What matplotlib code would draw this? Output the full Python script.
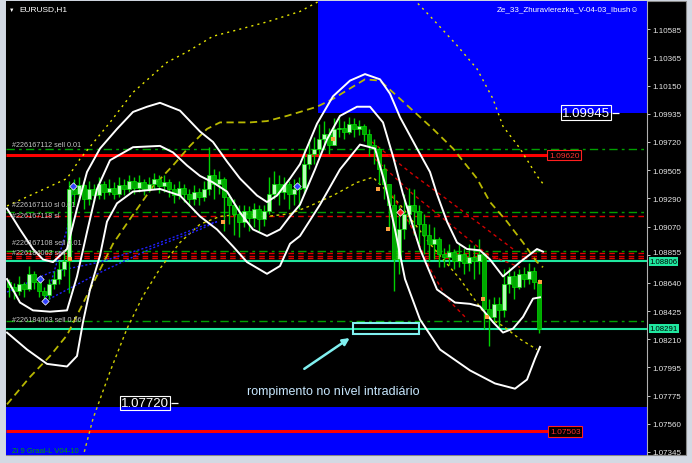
import matplotlib.pyplot as plt
from matplotlib.patches import Rectangle
from matplotlib.transforms import blended_transform_factory, ScaledTranslation

# ---- EURUSD H1 candles (bar index 0..106) ----
first_open = 1.0865
closes = [1.0861, 1.0858, 1.0863, 1.0859, 1.0871, 1.0865, 1.0858, 1.0855, 1.0863, 1.0867,
          1.0875, 1.0881, 1.0936, 1.0932, 1.0939, 1.0928, 1.0936, 1.0931, 1.0940, 1.0934,
          1.0937, 1.0932, 1.0939, 1.0936, 1.0942, 1.0937, 1.0941, 1.0936, 1.0940, 1.0944,
          1.0938, 1.0941, 1.0936, 1.0931, 1.0937, 1.0932, 1.0928, 1.0934, 1.0930, 1.0936,
          1.0947, 1.0940, 1.0944, 1.0930, 1.0924, 1.0917, 1.0911, 1.0919, 1.0914, 1.0921,
          1.0913, 1.0919, 1.0932, 1.0940, 1.0934, 1.0940, 1.0932, 1.0936, 1.0937, 1.0955,
          1.0963, 1.0967, 1.0974, 1.0978, 1.0970, 1.0982, 1.0983, 1.0980, 1.0986, 1.0982,
          1.0984, 1.0978, 1.0970, 1.0967, 1.0951, 1.0940, 1.0924, 1.0882, 1.0905, 1.0917,
          1.0924, 1.0919, 1.0909, 1.0901, 1.0894, 1.0898, 1.0886, 1.0884, 1.0888, 1.0881,
          1.0886, 1.0879, 1.0884, 1.0881, 1.0886, 1.0844, 1.0838, 1.0848, 1.0843, 1.0863,
          1.0869, 1.0861, 1.0871, 1.0867, 1.0873, 1.0865, 1.0829]
highs = [1.0867, 1.0864, 1.0869, 1.0865, 1.0877, 1.0873, 1.0865, 1.0861, 1.0867, 1.0873,
         1.0881, 1.0888, 1.0942, 1.0944, 1.0945, 1.0940, 1.0942, 1.0940, 1.0945, 1.0942,
         1.0944, 1.0941, 1.0945, 1.0944, 1.0947, 1.0945, 1.0947, 1.0944, 1.0945, 1.0948,
         1.0947, 1.0947, 1.0944, 1.0940, 1.0942, 1.0940, 1.0936, 1.0939, 1.0937, 1.0942,
         1.0968, 1.0951, 1.0950, 1.0945, 1.0932, 1.0928, 1.0924, 1.0924, 1.0923, 1.0925,
         1.0924, 1.0924, 1.0945, 1.0950, 1.0947, 1.0945, 1.0942, 1.0944, 1.0945, 1.0967,
         1.0974, 1.0976, 1.0986, 1.0988, 1.0983, 1.0990, 1.0990, 1.0988, 1.0991, 1.0990,
         1.0989, 1.0986, 1.0982, 1.0974, 1.0968, 1.0955, 1.0940, 1.0932, 1.0924, 1.0932,
         1.0937, 1.0936, 1.0924, 1.0917, 1.0909, 1.0907, 1.0899, 1.0891, 1.0894, 1.0890,
         1.0894, 1.0891, 1.0894, 1.0893, 1.0898, 1.0888, 1.0852, 1.0853, 1.0853, 1.0875,
         1.0876, 1.0873, 1.0875, 1.0876, 1.0879, 1.0876, 1.0867]
lows = [1.0853, 1.0852, 1.0855, 1.0853, 1.0858, 1.0859, 1.0853, 1.0850, 1.0852, 1.0859,
        1.0863, 1.0869, 1.0856, 1.0924, 1.0928, 1.0921, 1.0924, 1.0927, 1.0928, 1.0928,
        1.0931, 1.0928, 1.0930, 1.0931, 1.0934, 1.0932, 1.0934, 1.0931, 1.0934, 1.0936,
        1.0933, 1.0934, 1.0930, 1.0925, 1.0928, 1.0926, 1.0923, 1.0924, 1.0924, 1.0927,
        1.0931, 1.0928, 1.0932, 1.0904, 1.0909, 1.0901, 1.0899, 1.0907, 1.0904, 1.0907,
        1.0904, 1.0908, 1.0917, 1.0928, 1.0924, 1.0928, 1.0921, 1.0924, 1.0921, 1.0932,
        1.0951, 1.0955, 1.0961, 1.0967, 1.0963, 1.0970, 1.0976, 1.0974, 1.0978, 1.0976,
        1.0977, 1.0973, 1.0961, 1.0955, 1.0940, 1.0928, 1.0905, 1.0858, 1.0871, 1.0898,
        1.0909, 1.0901, 1.0894, 1.0886, 1.0881, 1.0882, 1.0876, 1.0876, 1.0878, 1.0875,
        1.0876, 1.0871, 1.0873, 1.0867, 1.0871, 1.0829, 1.0816, 1.0833, 1.0830, 1.0838,
        1.0856, 1.0852, 1.0859, 1.0861, 1.0863, 1.0859, 1.0826]

# ---- white channel lines (bar, price) ----
band_up_x = [-0.4, 2.2, 4.8, 6.8, 8.8, 11.6, 13.6, 15.6, 18.2, 21.6, 24.8, 27.6, 30.2, 34.2, 38.2, 40.8,
             43.6, 46.2, 49.6, 51.6, 53.6, 56.2, 58.2, 61.6, 64.8, 68.2, 71.2, 74.2, 76.2, 78.2, 81.6,
             84.2, 85.6, 87.6, 89.6, 91.6, 94.2, 96.2, 98.8, 102.2, 105.6, 106.8]
band_up_y = [1.0921, 1.0905, 1.0890, 1.0882, 1.0880, 1.0890, 1.0921, 1.0949, 1.0967, 1.0982, 1.0995, 1.0999,
             1.1002, 1.0996, 1.0980, 1.0972, 1.0957, 1.0944, 1.0931, 1.0926, 1.0931, 1.0944, 1.0955, 1.0986,
             1.1007, 1.1019, 1.1024, 1.1020, 1.1009, 1.0991, 1.0967, 1.0949, 1.0932, 1.0911, 1.0895, 1.0890,
             1.0889, 1.0882, 1.0869, 1.0880, 1.0890, 1.0888]
band_mid_x = [-0.4, 2.2, 4.8, 8.2, 11.6, 13.6, 15.6, 17.6, 20.2, 24.8, 30.2, 32.8, 35.6, 38.2, 40.8, 43.6,
              46.2, 48.8, 51.6, 54.2, 56.2, 58.2, 61.2, 63.6, 66.2, 69.6, 72.2, 74.8, 76.8, 78.8, 82.2,
              85.6, 89.2, 92.2, 94.2, 96.8, 98.8, 100.8, 102.8, 104.8, 106.2]
band_mid_y = [1.0867, 1.0849, 1.0843, 1.0842, 1.0843, 1.0869, 1.0903, 1.0936, 1.0958, 1.0968, 1.0969,
              1.0964, 1.0954, 1.0946, 1.0941, 1.0934, 1.0918, 1.0905, 1.0900, 1.0905, 1.0915, 1.0924,
              1.0951, 1.0974, 1.0992, 1.0999, 1.0999, 1.0987, 1.0961, 1.0932, 1.0890, 1.0859, 1.0849,
              1.0848, 1.0846, 1.0834, 1.0826, 1.0829, 1.0838, 1.0852, 1.0853]
band_low_x = [-0.4, 3.6, 7.6, 11.6, 13.6, 14.8, 16.2, 18.2, 19.6, 21.6, 24.8, 30.2, 34.2, 38.2, 41.6,
              44.8, 47.6, 51.6, 54.2, 56.2, 58.2, 62.2, 66.2, 70.2, 73.2, 75.2, 77.2, 79.2, 82.2, 86.2,
              92.2, 97.2, 101.2, 103.6, 105.2, 106.2]
band_low_y = [1.0826, 1.0813, 1.0802, 1.0800, 1.0808, 1.0834, 1.0859, 1.0885, 1.0911, 1.0925, 1.0934,
              1.0936, 1.0931, 1.0915, 1.0905, 1.0892, 1.0880, 1.0871, 1.0877, 1.0894, 1.0900, 1.0924,
              1.0951, 1.0970, 1.0967, 1.0940, 1.0905, 1.0867, 1.0836, 1.0813, 1.0797, 1.0787, 1.0783,
              1.0790, 1.0806, 1.0815]

# ---- yellow envelope lines ----
env_outer_x = [-0.4, 8.2, 11.6, 14.2, 20.2, 24.8, 31.6, 35.6, 40.8, 44.8, 51.6, 58.2, 61.6, 68.2, 74.2,
               80.8, 84.8, 89.6, 93.6, 96.8, 98.8, 102.2, 105.6, 106.8]
env_outer_y = [1.0923, 1.0938, 1.0944, 1.0959, 1.0987, 1.1010, 1.1033, 1.1041, 1.1053, 1.1057, 1.1064,
               1.1072, 1.1079, 1.1093, 1.1093, 1.1082, 1.1066, 1.1046, 1.1028, 1.1005, 1.0984, 1.0967,
               1.0946, 1.0940]
env_up_x = [-0.4, 4.2, 8.2, 11.6, 16.2, 20.8, 24.2, 28.8, 32.8, 36.2, 39.6, 42.2, 48.2, 51.6, 55.6, 58.2,
            61.6, 64.8, 68.2, 71.2, 74.2, 78.8, 84.8, 88.8, 93.6, 96.2, 99.6, 102.8, 105.6, 106.8]
env_up_y = [1.0771, 1.0792, 1.0808, 1.0824, 1.0859, 1.0894, 1.0913, 1.0938, 1.0954, 1.0969, 1.0982,
            1.0987, 1.0987, 1.0988, 1.0992, 1.0995, 1.0999, 1.1005, 1.1013, 1.1020, 1.1019, 1.1003,
            1.0982, 1.0967, 1.0944, 1.0926, 1.0911, 1.0895, 1.0880, 1.0876]
env_low_x = [14.2, 16.8, 20.2, 23.6, 26.8, 30.2, 34.2, 38.2, 42.2, 47.2, 51.6, 56.2, 60.2, 64.8, 69.6,
             72.8, 78.2, 84.2, 90.2, 95.6, 98.8, 102.2, 105.6]
env_low_y = [1.0722, 1.0760, 1.0796, 1.0829, 1.0854, 1.0875, 1.0895, 1.0909, 1.0915, 1.0917, 1.0915,
             1.0917, 1.0923, 1.0931, 1.0941, 1.0945, 1.0924, 1.0894, 1.0867, 1.0838, 1.0831, 1.0821,
             1.0813]

# ---- blue dotted trend lines ----
blue_lines = [
    ([7.2, 8.2, 9.6, 11.6, 12.8], [1.0850, 1.0862, 1.0880, 1.0905, 1.0938]),
    ([7.2, 18.2, 28.2, 38.2, 41.6], [1.0850, 1.0872, 1.0890, 1.0905, 1.0911]),
    ([-0.4, 8.2, 18.2, 28.2, 38.2, 41.6], [1.0857, 1.0872, 1.0880, 1.0892, 1.0907, 1.0911]),
]
# ---- red dashed down channel ----
red_diag = [
    ([72.6, 80.8, 87.6, 94.2, 100.8], [1.0972, 1.0947, 1.0928, 1.0909, 1.0890]),
    ([73.2, 80.8, 87.6, 95.6, 102.2], [1.0959, 1.0932, 1.0911, 1.0886, 1.0876]),
    ([75.2, 80.2, 84.2, 87.6, 91.2], [1.0940, 1.0909, 1.0875, 1.0852, 1.0838]),
]

# ---- signal markers ----
blue_marks_x = [7.2, 57.6, 12.8, 6.2]
blue_marks_y = [1.0850, 1.0938, 1.0938, 1.0867]
orange_marks_x = [12.2, 42.8, 64.8, 73.8, 75.8, 94.8, 95.6, 106.2]
orange_marks_y = [1.0882, 1.0911, 1.0974, 1.0936, 1.0905, 1.0852, 1.0838, 1.0865]
red_mark = (78.2, 1.0918)

# ---- horizontal levels ----
order_levels = [1.09666, 1.09183, 1.08885, 1.08349]
stop_levels = [1.09153, 1.08870, 1.08846, 1.08830]
red_levels = [1.09620, 1.07503]
green_levels = [1.08806, 1.08291]
zone_top_low = 1.0994
zone_top_start = 61.8
zone_bottom_high = 1.0769
level_tags = [1.09945, 1.07720]

price_ticks = [1.10585, 1.10365, 1.10150, 1.09935, 1.09720, 1.09505, 1.09290, 1.09070,
               1.08855, 1.08640, 1.08425, 1.08210, 1.07995, 1.07775, 1.07560, 1.07345]

order_labels = [("#226167112 sell 0.01", 1.0970), ("#226167110 sl 0.01", 1.0924),
                ("#226167118 sl", 1.0916), ("#226167108 sell 0.01", 1.0895),
                ("#226184063 sell", 1.0887), ("#226184063 sell 0.56", 1.0836)]

W, H = 692, 464
plt.rcParams['font.family'] = ['Liberation Sans', 'DejaVu Sans']

fig = plt.figure(figsize=(W / 100, H / 100), dpi=100, facecolor='#d3d9e3')
fig.add_artist(Rectangle((6 / W, 8 / H), 680 / W, 454 / H, transform=fig.transFigure,
                         facecolor='black', edgecolor='#8a8a8a', lw=0.8, zorder=0))
ax = fig.add_axes([6 / W, 8 / H, 641 / W, 454 / H])
ax.set_facecolor('black')
ax.set_xlim(-0.6, 127.6)
ax.set_ylim(1.07322, 1.10800)

# zones
ax.add_patch(Rectangle((zone_top_start, zone_top_low), 127.6 - zone_top_start, 0.01,
                       facecolor='#0000ff', edgecolor='none', zorder=0))
ax.add_patch(Rectangle((-0.6, 1.07), 128.2, zone_bottom_high - 1.07,
                       facecolor='#0000ff', edgecolor='none', zorder=0))

# horizontal levels
for p in order_levels:
    ax.axhline(p, color='#00a000', lw=1, ls=(0, (6, 3, 2, 3)), zorder=1)
for p in stop_levels:
    ax.axhline(p, color='#e00000', lw=1, ls=(0, (4, 3)), zorder=1)
for p in green_levels:
    ax.axhline(p, color='#20e8a0', lw=1.5, zorder=2)
ax.hlines(red_levels, -0.6, [107.6, 107.8], color='#ff0000', lw=2.2, zorder=2)

# yellow envelopes
ax.plot(env_outer_x, env_outer_y, color='#e8e800', lw=1, ls=(0, (1.5, 3)), zorder=3)
ax.plot(env_up_x, env_up_y, color='#b8b800', lw=1.3, ls=(0, (4, 2.5)), zorder=3)
ax.plot(env_low_x, env_low_y, color='#d0d000', lw=1, ls=(0, (2, 2.5)), zorder=3)

for xs, ys in blue_lines:
    ax.plot(xs, ys, color='#2020ff', lw=1, ls=(0, (1.5, 1.5)), zorder=3)
for xs, ys in red_diag:
    ax.plot(xs, ys, color='#d00000', lw=1, ls=(0, (2.5, 2.5)), zorder=3)

# candles
opens = [first_open] + closes[:-1]
bars = list(range(len(closes)))
ax.vlines(bars, lows, highs, color='#00d000', lw=1, zorder=4)
bodies = [c - o for o, c in zip(opens, closes)]
faces = ['#b8ffb8' if b >= 0 else '#00a800' for b in bodies]
ax.bar(bars, bodies, bottom=opens, width=0.62, color=faces, edgecolor='#00e000', lw=0.5, zorder=5)

# white channel
for xs, ys in [(band_up_x, band_up_y), (band_mid_x, band_mid_y), (band_low_x, band_low_y)]:
    ax.plot(xs, ys, color='white', lw=1.4, zorder=6)

ax.scatter(blue_marks_x, blue_marks_y, marker='D', s=14, color='#3040ff', edgecolor='white', lw=0.5, zorder=7)
ax.scatter(orange_marks_x, orange_marks_y, marker='s', s=6, color='#ffa040', lw=0, zorder=7)
ax.scatter(*red_mark, marker='D', s=14, color='#ff2020', edgecolor='white', lw=0.5, zorder=7)

# price scale
ax.yaxis.tick_right()
ax.set_yticks(price_ticks)
ax.set_yticklabels([f"{t:.5f}" for t in price_ticks])
ax.tick_params(axis='y', colors='#c8c8c8', labelcolor='#e8e8e8', labelsize=5.8, length=2.5, width=0.7, pad=1.5)
ax.set_xticks([])
for s in ['top', 'left', 'bottom']:
    ax.spines[s].set_visible(False)
ax.spines['right'].set_color('#b0b0b0')
ax.spines['right'].set_linewidth(0.8)

# the 1.08855 label sits just above the 1.08806 tag, as in the terminal
lbl = ax.get_yticklabels()[price_ticks.index(1.08855)]
lbl.set_transform(lbl.get_transform() + ScaledTranslation(0, 3 / 100, fig.dpi_scale_trans))

tr = blended_transform_factory(ax.transAxes, ax.transData)
for p in green_levels:
    ax.text(1.004, p, f"{p:.5f}", transform=tr, ha='left', va='center', fontsize=5.6, color='black',
            bbox=dict(boxstyle='square,pad=0.1', fc='#20e8a0', ec='none'), clip_on=False, zorder=9)
for p, x0 in zip(red_levels, [107.6, 107.8]):
    ax.text(x0 + 0.4, p, f"{p:.5f}", ha='left', va='center', fontsize=6, color='#ff3030',
            bbox=dict(boxstyle='square,pad=0.2', fc='black', ec='#ff2020', lw=0.8), zorder=8)

# level tags
for p, xr in zip(level_tags, [120.2, 32.0]):
    ax.text(xr, p, f"{p:.5f}", ha='right', va='center', fontsize=9.5, color='white',
            bbox=dict(boxstyle='square,pad=0.1', fc='none', ec='white', lw=0.8), zorder=8)
    ax.hlines(p, xr + 0.3, xr + 1.8, color='white', lw=0.9, zorder=8)

# order labels
for txt, p in order_labels:
    ax.text(0.6, p, txt, ha='left', va='center', fontsize=5.2, color='#c4c4c4', zorder=8)

# annotation
ax.add_patch(Rectangle((68.8, 1.0825), 13.2, 0.0008, fill=False, ec='#80f0f0', lw=1.5, zorder=8))
ax.annotate('', xy=(68.6, 1.0823), xytext=(58.6, 1.0797),
            arrowprops=dict(arrowstyle='-|>', color='#80f0f0', lw=1.8, mutation_scale=10), zorder=8)
ax.text(64.8, 1.0781, 'rompimento no nível intradiário', ha='center', va='center',
        fontsize=9, color='#c8e8ff', zorder=8)
ax.text(0.6, 1.0736, 'Zi 9 Graal-L V04-10', ha='left', va='center', fontsize=5.5, color='#00a000', zorder=8)

fig.text(12 / W, 1 - 10 / H, '\u25bc', fontsize=4, color='white', ha='center', va='center')
fig.text(19 / W, 1 - 10 / H, 'EURUSD,H1', fontsize=6, color='white', ha='left', va='center')
fig.text(639 / W, 1 - 10 / H, 'Ze_33_Zhuravlerezka_V-04-03_Ibush\u263a', fontsize=5.8, color='white',
         ha='right', va='center')

fig.savefig('out.png', dpi=100, facecolor=fig.get_facecolor())
plt.close()
